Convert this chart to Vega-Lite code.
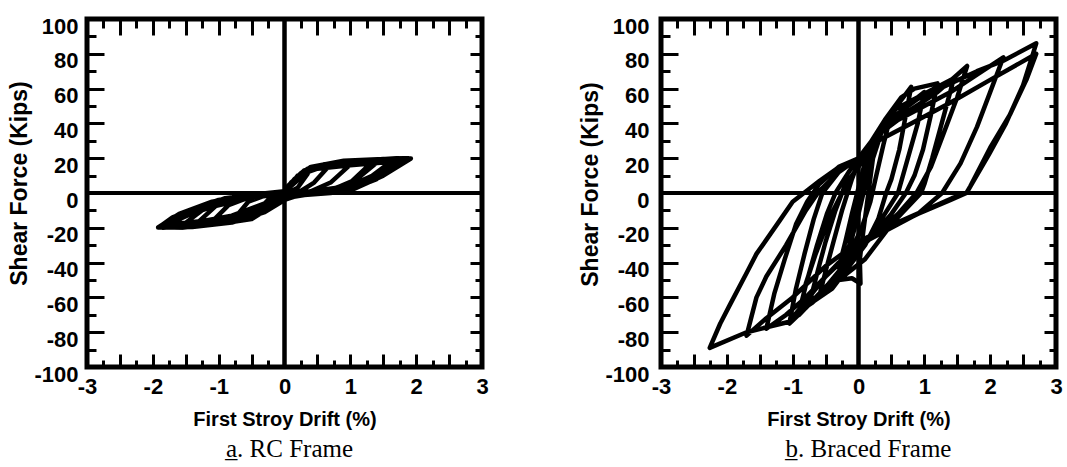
{
  "$schema": "https://vega.github.io/schema/vega-lite/v6.json",
  "background": "white",
  "padding": {"left": 6, "top": 12, "right": 5, "bottom": 5},
  "bounds": "flush",
  "spacing": 179,
  "config": {
    "view": {"stroke": "black", "strokeWidth": 5},
    "font": "Liberation Sans",
    "axis": {"grid": false, "domain": false, "labelColor": "black", "titleColor": "black", "tickColor": "black", "labelFont": "Liberation Sans", "titleFont": "Liberation Sans", "labelFontWeight": "bold", "titleFontWeight": "bold", "labelFlush": false, "labelOverlap": false}
  },
  "datasets": {
    "rc": [
      {"i":0,"d":0,"F":0},{"i":1,"d":0.1,"F":4},{"i":2,"d":0.25,"F":9},{"i":3,"d":0.35,"F":11},{"i":4,"d":0.2,"F":3},{"i":5,"d":0,"F":-1},{"i":6,"d":-0.15,"F":-4},{"i":7,"d":-0.35,"F":-8},{"i":8,"d":-0.2,"F":-2},{"i":9,"d":0,"F":0.5},
      {"i":10,"d":0.1,"F":5},{"i":11,"d":0.3,"F":12},{"i":12,"d":0.55,"F":15.5},{"i":13,"d":0.7,"F":16.5},{"i":14,"d":0.45,"F":6},{"i":15,"d":0.2,"F":0},{"i":16,"d":0,"F":-2},{"i":17,"d":-0.2,"F":-6},{"i":18,"d":-0.5,"F":-12},{"i":19,"d":-0.75,"F":-14},
      {"i":20,"d":-0.55,"F":-5},{"i":21,"d":-0.3,"F":-1.5},{"i":22,"d":0,"F":1},{"i":23,"d":0.1,"F":5},{"i":24,"d":0.3,"F":12.5},{"i":25,"d":0.6,"F":16.5},{"i":26,"d":0.9,"F":17.5},{"i":27,"d":1.05,"F":18},{"i":28,"d":0.7,"F":6},{"i":29,"d":0.4,"F":1},
      {"i":30,"d":0,"F":-2.5},{"i":31,"d":-0.2,"F":-7},{"i":32,"d":-0.5,"F":-13},{"i":33,"d":-0.9,"F":-16},{"i":34,"d":-1.1,"F":-16.5},{"i":35,"d":-0.85,"F":-7},{"i":36,"d":-0.5,"F":-2},{"i":37,"d":0,"F":1},{"i":38,"d":0.05,"F":4},{"i":39,"d":0.25,"F":11.5},
      {"i":40,"d":0.5,"F":15.5},{"i":41,"d":0.9,"F":17.5},{"i":42,"d":1.3,"F":18.5},{"i":43,"d":1.45,"F":19},{"i":44,"d":1.1,"F":8},{"i":45,"d":0.7,"F":1.5},{"i":46,"d":0.3,"F":-0.5},{"i":47,"d":0,"F":-3},{"i":48,"d":-0.15,"F":-6},{"i":49,"d":-0.5,"F":-14},
      {"i":50,"d":-1.0,"F":-17},{"i":51,"d":-1.4,"F":-18.5},{"i":52,"d":-1.55,"F":-18.5},{"i":53,"d":-1.15,"F":-7},{"i":54,"d":-0.7,"F":-2},{"i":55,"d":-0.3,"F":-0.3},{"i":56,"d":0,"F":1},{"i":57,"d":0.05,"F":4},{"i":58,"d":0.27,"F":12},{"i":59,"d":0.45,"F":15},
      {"i":60,"d":0.8,"F":17.5},{"i":61,"d":1.3,"F":19},{"i":62,"d":1.7,"F":20},{"i":63,"d":1.92,"F":19.8},{"i":64,"d":1.5,"F":10},{"i":65,"d":0.98,"F":1},{"i":66,"d":0.42,"F":-0.5},{"i":67,"d":0,"F":-3},{"i":68,"d":-0.12,"F":-6},{"i":69,"d":-0.5,"F":-15},
      {"i":70,"d":-1.0,"F":-17.8},{"i":71,"d":-1.55,"F":-20},{"i":72,"d":-1.9,"F":-19.5},{"i":73,"d":-1.7,"F":-14},{"i":74,"d":-1.29,"F":-8},{"i":75,"d":-0.79,"F":-2.5},{"i":76,"d":-0.38,"F":-0.6},{"i":77,"d":0,"F":1},{"i":78,"d":0.3,"F":13},{"i":79,"d":0.7,"F":17},
      {"i":80,"d":1.2,"F":18},{"i":81,"d":1.65,"F":19},{"i":82,"d":1.3,"F":9},{"i":83,"d":0.85,"F":1.5},{"i":84,"d":0.3,"F":-1},{"i":85,"d":0,"F":-3},{"i":86,"d":-0.3,"F":-10},{"i":87,"d":-0.8,"F":-16},{"i":88,"d":-1.3,"F":-18},{"i":89,"d":-1.75,"F":-19.5},
      {"i":90,"d":-1.4,"F":-10},{"i":91,"d":-0.9,"F":-3},{"i":92,"d":-0.4,"F":-0.5},{"i":93,"d":0,"F":1},{"i":94,"d":0.05,"F":3},
      {"i":95,"d":0.2,"F":9},{"i":96,"d":0.5,"F":15},{"i":97,"d":1.0,"F":18},{"i":98,"d":1.5,"F":19.5},{"i":99,"d":1.8,"F":19.8},
      {"i":100,"d":1.4,"F":8},{"i":101,"d":1.0,"F":2},{"i":102,"d":0.5,"F":0},{"i":103,"d":0,"F":-2},{"i":104,"d":-0.25,"F":-8},{"i":105,"d":-0.7,"F":-15},{"i":106,"d":-1.2,"F":-18},{"i":107,"d":-1.7,"F":-19.5},{"i":108,"d":-1.85,"F":-20},{"i":109,"d":-1.5,"F":-11},
      {"i":110,"d":-1.0,"F":-4},{"i":111,"d":-0.5,"F":-1},{"i":112,"d":0,"F":0.5},{"i":113,"d":0.1,"F":6},{"i":114,"d":0.35,"F":14},{"i":115,"d":0.8,"F":17},{"i":116,"d":1.25,"F":18.5},{"i":117,"d":1.35,"F":18.5},{"i":118,"d":1.0,"F":6},{"i":119,"d":0.6,"F":0.5},
      {"i":120,"d":0.2,"F":-1},{"i":121,"d":0,"F":-2},{"i":122,"d":-0.3,"F":-9},{"i":123,"d":-0.8,"F":-15},{"i":124,"d":-1.2,"F":-17.5},{"i":125,"d":-1.35,"F":-18},{"i":126,"d":-1.0,"F":-6},{"i":127,"d":-0.6,"F":-1.5},{"i":128,"d":0,"F":0.5},{"i":129,"d":0.15,"F":8},
      {"i":130,"d":0.4,"F":15},{"i":131,"d":0.9,"F":18.5},{"i":132,"d":1.5,"F":19.5},{"i":133,"d":1.88,"F":20},{"i":134,"d":1.6,"F":13},{"i":135,"d":1.2,"F":5},{"i":136,"d":0.7,"F":0},{"i":137,"d":0.2,"F":-1.5},{"i":138,"d":0,"F":-4},{"i":139,"d":-0.3,"F":-11},
      {"i":140,"d":-0.8,"F":-17},{"i":141,"d":-1.4,"F":-19.5},{"i":142,"d":-1.92,"F":-19.8},{"i":143,"d":-1.6,"F":-12},{"i":144,"d":-1.1,"F":-5},{"i":145,"d":-0.6,"F":-1.5},{"i":146,"d":0,"F":0.5},
      {"i":147,"d":0.1,"F":6},{"i":148,"d":0.3,"F":13},{"i":149,"d":0.7,"F":16.5},{"i":150,"d":1.2,"F":17.5},{"i":151,"d":1.75,"F":19},{"i":152,"d":1.5,"F":13},{"i":153,"d":1.2,"F":7},{"i":154,"d":0.9,"F":3},{"i":155,"d":0.5,"F":1},{"i":156,"d":0,"F":-1.5},
      {"i":157,"d":-0.2,"F":-5},{"i":158,"d":-0.6,"F":-12},{"i":159,"d":-1.1,"F":-15.5},{"i":160,"d":-1.6,"F":-17.5},{"i":161,"d":-1.8,"F":-18.5},{"i":162,"d":-1.6,"F":-15},{"i":163,"d":-1.3,"F":-10},{"i":164,"d":-0.9,"F":-5},{"i":165,"d":-0.5,"F":-2},{"i":166,"d":0,"F":0},
      {"i":167,"d":0.2,"F":10},{"i":168,"d":0.5,"F":14},{"i":169,"d":1.0,"F":16},{"i":170,"d":1.5,"F":17.5},{"i":171,"d":1.85,"F":19.5},{"i":172,"d":1.7,"F":16},{"i":173,"d":1.4,"F":11},{"i":174,"d":1.1,"F":6},{"i":175,"d":0.8,"F":3},{"i":176,"d":0.4,"F":1},
      {"i":177,"d":0,"F":-1},{"i":178,"d":-0.3,"F":-6},{"i":179,"d":-0.8,"F":-13},{"i":180,"d":-1.3,"F":-16.5},{"i":181,"d":-1.88,"F":-19},{"i":182,"d":-1.75,"F":-17},{"i":183,"d":-1.5,"F":-13},{"i":184,"d":-1.1,"F":-8},{"i":185,"d":-0.6,"F":-3.5},{"i":186,"d":0,"F":0}
    ],
    "braced": [
      {"i":0,"d":0,"F":0},{"i":1,"d":0.08,"F":12},{"i":2,"d":0.15,"F":22},{"i":3,"d":0.08,"F":8},{"i":4,"d":0,"F":-8},{"i":5,"d":-0.08,"F":-20},{"i":6,"d":-0.15,"F":-28},{"i":7,"d":-0.05,"F":-12},{"i":8,"d":0.05,"F":5},{"i":9,"d":0.15,"F":20},
      {"i":10,"d":0.25,"F":30},{"i":11,"d":0.3,"F":33},{"i":12,"d":0.2,"F":18},{"i":13,"d":0.1,"F":4},{"i":14,"d":0,"F":-12},{"i":15,"d":-0.1,"F":-26},{"i":16,"d":-0.2,"F":-36},{"i":17,"d":-0.3,"F":-43},{"i":18,"d":-0.2,"F":-28},{"i":19,"d":-0.1,"F":-12},
      {"i":20,"d":0,"F":3},{"i":21,"d":0.1,"F":18},{"i":22,"d":0.2,"F":28},{"i":23,"d":0.35,"F":38},{"i":24,"d":0.5,"F":46},{"i":25,"d":0.38,"F":28},{"i":26,"d":0.27,"F":10},{"i":27,"d":0.18,"F":-5},{"i":28,"d":0.05,"F":-20},{"i":29,"d":-0.1,"F":-32},
      {"i":30,"d":-0.3,"F":-45},{"i":31,"d":-0.45,"F":-52},{"i":32,"d":-0.3,"F":-50},{"i":33,"d":-0.1,"F":-49},{"i":34,"d":0.03,"F":-52},{"i":35,"d":0.02,"F":-38},{"i":36,"d":0.08,"F":-20},{"i":37,"d":0.15,"F":0},{"i":38,"d":0.22,"F":20},{"i":39,"d":0.35,"F":35},
      {"i":40,"d":0.62,"F":52},{"i":41,"d":0.8,"F":61},{"i":42,"d":0.72,"F":45},{"i":43,"d":0.62,"F":25},{"i":44,"d":0.5,"F":8},{"i":45,"d":0.42,"F":0},{"i":46,"d":0.3,"F":-15},{"i":47,"d":0.1,"F":-30},{"i":48,"d":-0.2,"F":-45},{"i":49,"d":-0.45,"F":-55},
      {"i":50,"d":-0.6,"F":-60},{"i":51,"d":-0.5,"F":-45},{"i":52,"d":-0.38,"F":-28},{"i":53,"d":-0.25,"F":-10},{"i":54,"d":-0.1,"F":8},{"i":55,"d":0,"F":18},{"i":56,"d":0.2,"F":30},{"i":57,"d":0.4,"F":42},{"i":58,"d":0.65,"F":55},{"i":59,"d":0.85,"F":60},
      {"i":60,"d":1.2,"F":63},{"i":61,"d":1.1,"F":45},{"i":62,"d":0.98,"F":25},{"i":63,"d":0.85,"F":10},{"i":64,"d":0.72,"F":0},{"i":65,"d":0.5,"F":-12},{"i":66,"d":0.2,"F":-25},{"i":67,"d":0,"F":-33},{"i":68,"d":-0.4,"F":-52},{"i":69,"d":-0.7,"F":-63},
      {"i":70,"d":-0.9,"F":-68},{"i":71,"d":-0.78,"F":-50},{"i":72,"d":-0.63,"F":-30},{"i":73,"d":-0.48,"F":-12},{"i":74,"d":-0.35,"F":0},{"i":75,"d":-0.15,"F":12},{"i":76,"d":0,"F":20},{"i":77,"d":0.2,"F":30},{"i":78,"d":0.45,"F":40},{"i":79,"d":0.8,"F":48},
      {"i":80,"d":1.2,"F":58},{"i":81,"d":1.65,"F":73},{"i":82,"d":1.5,"F":55},{"i":83,"d":1.3,"F":35},{"i":84,"d":1.1,"F":15},{"i":85,"d":0.88,"F":0},{"i":86,"d":0.6,"F":-12},{"i":87,"d":0.25,"F":-24},{"i":88,"d":0,"F":-32},{"i":89,"d":-0.4,"F":-50},
      {"i":90,"d":-0.8,"F":-66},{"i":91,"d":-1.05,"F":-75},{"i":92,"d":-0.95,"F":-55},{"i":93,"d":-0.82,"F":-35},{"i":94,"d":-0.68,"F":-15},{"i":95,"d":-0.55,"F":0},{"i":96,"d":-0.3,"F":12},{"i":97,"d":0,"F":20},{"i":98,"d":0.25,"F":32},{"i":99,"d":0.6,"F":42},
      {"i":100,"d":1.0,"F":50},{"i":101,"d":1.4,"F":58},{"i":102,"d":1.8,"F":68},{"i":103,"d":2.2,"F":78},{"i":104,"d":2.0,"F":58},{"i":105,"d":1.8,"F":38},{"i":106,"d":1.55,"F":17},{"i":107,"d":1.27,"F":0},{"i":108,"d":0.9,"F":-12},{"i":109,"d":0.4,"F":-22},
      {"i":110,"d":0,"F":-30},{"i":111,"d":-0.3,"F":-40},{"i":112,"d":-0.8,"F":-60},{"i":113,"d":-1.1,"F":-70},{"i":114,"d":-1.4,"F":-78},{"i":115,"d":-1.28,"F":-58},{"i":116,"d":-1.12,"F":-38},{"i":117,"d":-0.95,"F":-18},{"i":118,"d":-0.78,"F":-5},{"i":119,"d":-0.6,"F":5},
      {"i":120,"d":-0.3,"F":15},{"i":121,"d":0,"F":20},{"i":122,"d":0.2,"F":30},{"i":123,"d":0.5,"F":43},{"i":124,"d":0.9,"F":54},{"i":125,"d":1.4,"F":63},{"i":126,"d":1.8,"F":70},{"i":127,"d":2.2,"F":76},{"i":128,"d":2.7,"F":86},{"i":129,"d":2.5,"F":62},
      {"i":130,"d":2.24,"F":40},{"i":131,"d":1.98,"F":22},{"i":132,"d":1.64,"F":0},{"i":133,"d":1.42,"F":-3},{"i":134,"d":0.47,"F":-19},{"i":135,"d":0,"F":-28},{"i":136,"d":-0.5,"F":-42},{"i":137,"d":-1.0,"F":-60},{"i":138,"d":-1.4,"F":-72},{"i":139,"d":-1.7,"F":-82},
      {"i":140,"d":-1.55,"F":-60},{"i":141,"d":-1.4,"F":-48},{"i":142,"d":-1.1,"F":-30},{"i":143,"d":-0.8,"F":-10},{"i":144,"d":-0.6,"F":1},{"i":145,"d":-0.3,"F":12},{"i":146,"d":0,"F":20},{"i":147,"d":0.3,"F":30},{"i":148,"d":0.8,"F":40},{"i":149,"d":1.4,"F":52},
      {"i":150,"d":2.0,"F":65},{"i":151,"d":2.7,"F":80},{"i":152,"d":2.55,"F":65},{"i":153,"d":2.3,"F":45},{"i":154,"d":2.0,"F":26},{"i":155,"d":1.7,"F":4},{"i":156,"d":1.64,"F":0},{"i":157,"d":1.4,"F":-4},{"i":158,"d":0.9,"F":-12},{"i":159,"d":0.47,"F":-20},
      {"i":160,"d":0,"F":-30},{"i":161,"d":-0.5,"F":-48},{"i":162,"d":-1.05,"F":-74},{"i":163,"d":-1.7,"F":-80},{"i":164,"d":-2.26,"F":-89},{"i":165,"d":-2.1,"F":-75},{"i":166,"d":-1.95,"F":-64},{"i":167,"d":-1.7,"F":-46},{"i":168,"d":-1.55,"F":-35},{"i":169,"d":-1.2,"F":-16},
      {"i":170,"d":-1.0,"F":-5},{"i":171,"d":-0.59,"F":7},{"i":172,"d":-0.29,"F":15},{"i":173,"d":0,"F":20},{"i":174,"d":0.2,"F":28},
      {"i":175,"d":0.5,"F":42},{"i":176,"d":0.8,"F":52},{"i":177,"d":1.0,"F":58},{"i":178,"d":0.9,"F":40},{"i":179,"d":0.75,"F":20},{"i":180,"d":0.6,"F":0},{"i":181,"d":0.35,"F":-15},{"i":182,"d":0,"F":-35},{"i":183,"d":-0.4,"F":-55},{"i":184,"d":-0.75,"F":-64},
      {"i":185,"d":-0.62,"F":-45},{"i":186,"d":-0.5,"F":-28},{"i":187,"d":-0.35,"F":-10},{"i":188,"d":-0.2,"F":5},{"i":189,"d":0,"F":15},{"i":190,"d":0.15,"F":25},{"i":191,"d":0.3,"F":36},{"i":192,"d":0.55,"F":48},{"i":193,"d":1.0,"F":57},{"i":194,"d":1.45,"F":66},
      {"i":195,"d":1.3,"F":45},{"i":196,"d":1.12,"F":20},{"i":197,"d":1.0,"F":5},{"i":198,"d":0.95,"F":0},{"i":199,"d":0.5,"F":-18},{"i":200,"d":0.1,"F":-38},{"i":201,"d":-0.3,"F":-50},{"i":202,"d":-0.6,"F":-58},{"i":203,"d":-0.9,"F":-70},{"i":204,"d":-0.8,"F":-52},
      {"i":205,"d":-0.65,"F":-35},{"i":206,"d":-0.45,"F":-15},{"i":207,"d":-0.25,"F":0},{"i":208,"d":0,"F":16}
    ],
    "one": [{"k": 1}]
  },
  "hconcat": [
    {
      "width": 395, "height": 348,
      "title": {"text": "a\u0332. RC Frame", "orient": "bottom", "anchor": "middle", "font": "Liberation Serif", "fontSize": 25, "fontWeight": "normal", "color": "black", "offset": 8, "dx": 5},
      "resolve": {"axis": {"x": "independent", "y": "independent"}},
      "layer": [
        {"data": {"name": "rc"}, "mark": {"type": "line", "color": "black", "strokeWidth": 4.5, "strokeJoin": "round"},
         "encoding": {
           "x": {"field": "d", "type": "quantitative", "scale": {"domain": [-3, 3], "nice": false, "zero": false},
                 "axis": {"orient": "bottom", "values": [-3,-2,-1,0,1,2,3], "ticks": false, "labelExpr": "'' + datum.value", "labelFontSize": 22, "labelPadding": 9, "title": "First Stroy Drift (%)", "titleFontSize": 20, "titlePadding": 12}},
           "y": {"field": "F", "type": "quantitative", "scale": {"domain": [-100, 100], "nice": false, "zero": false},
                 "axis": {"orient": "left", "values": [-100,-80,-60,-40,-20,0,20,40,60,80,100], "ticks": false, "labelExpr": "'' + datum.value", "labelFontSize": 22, "labelPadding": 9, "labelOffset": 7, "title": "Shear Force (Kips)", "titleFontSize": 23, "titlePadding": 2, "titleY": 164}},
           "order": {"field": "i", "type": "quantitative"}}},
        {"data": {"name": "one"}, "mark": {"type": "rule", "color": "black", "strokeWidth": 4},
         "encoding": {
           "x": {"datum": 0, "type": "quantitative", "scale": {"domain": [-3, 3], "nice": false, "zero": false}, "axis": {"orient": "bottom", "values": [-2.5,-2,-1.5,-1,-0.5,0.5,1,1.5,2,2.5], "tickSize": -13, "tickWidth": 3, "labels": false, "title": null}},
           "y": {"datum": -100, "type": "quantitative", "scale": {"domain": [-100, 100], "nice": false, "zero": false}, "axis": {"orient": "left", "values": [-80,-60,-40,-20,20,40,60,80], "tickSize": -17, "tickWidth": 3, "labels": false, "title": null}},
           "y2": {"datum": 100}}},
        {"data": {"name": "one"}, "mark": {"type": "rule", "color": "black", "strokeWidth": 4},
         "encoding": {
           "x": {"datum": 0, "type": "quantitative", "scale": {"domain": [-3, 3], "nice": false, "zero": false}, "axis": {"orient": "bottom", "values": [-2.75,-2.25,-1.75,-1.25,-0.75,-0.25,0.25,0.75,1.25,1.75,2.25,2.75], "tickSize": -7, "tickWidth": 3, "labels": false, "title": null}},
           "y": {"datum": -100, "type": "quantitative", "scale": {"domain": [-100, 100], "nice": false, "zero": false}, "axis": {"orient": "left", "values": [-90,-70,-50,-30,-10,10,30,50,70,90], "tickSize": -9, "tickWidth": 3, "labels": false, "title": null}},
           "y2": {"datum": 100}}},
        {"data": {"name": "one"}, "mark": {"type": "rule", "color": "black", "strokeWidth": 4},
         "encoding": {
           "y": {"datum": 0, "type": "quantitative", "scale": {"domain": [-100, 100], "nice": false, "zero": false}, "axis": {"orient": "right", "values": [-80,-60,-40,-20,20,40,60,80], "tickSize": -12, "tickWidth": 3, "labels": false, "title": null}},
           "x": {"datum": -3, "type": "quantitative", "scale": {"domain": [-3, 3], "nice": false, "zero": false}, "axis": {"orient": "top", "values": [-2.5,-2,-1.5,-1,-0.5,0.5,1,1.5,2,2.5], "tickSize": -16, "tickWidth": 3, "labels": false, "title": null}},
           "x2": {"datum": 3}}},
        {"data": {"name": "one"}, "mark": {"type": "rule", "color": "black", "strokeWidth": 4},
         "encoding": {
           "y": {"datum": 0, "type": "quantitative", "scale": {"domain": [-100, 100], "nice": false, "zero": false}, "axis": {"orient": "right", "values": [-90,-70,-50,-30,-10,10,30,50,70,90], "tickSize": -7, "tickWidth": 3, "labels": false, "title": null}},
           "x": {"datum": -3, "type": "quantitative", "scale": {"domain": [-3, 3], "nice": false, "zero": false}, "axis": {"orient": "top", "values": [-2.75,-2.25,-1.75,-1.25,-0.75,-0.25,0.25,0.75,1.25,1.75,2.25,2.75], "tickSize": -9, "tickWidth": 3, "labels": false, "title": null}},
           "x2": {"datum": 3}}}
      ]
    },
    {
      "width": 395, "height": 348,
      "title": {"text": "b\u0332. Braced Frame", "orient": "bottom", "anchor": "middle", "font": "Liberation Serif", "fontSize": 25, "fontWeight": "normal", "color": "black", "offset": 8, "dx": 10},
      "resolve": {"axis": {"x": "independent", "y": "independent"}},
      "layer": [
        {"data": {"name": "braced"}, "mark": {"type": "line", "color": "black", "strokeWidth": 4.5, "strokeJoin": "round"},
         "encoding": {
           "x": {"field": "d", "type": "quantitative", "scale": {"domain": [-3, 3], "nice": false, "zero": false},
                 "axis": {"orient": "bottom", "values": [-3,-2,-1,0,1,2,3], "ticks": false, "labelExpr": "'' + datum.value", "labelFontSize": 22, "labelPadding": 9, "title": "First Stroy Drift (%)", "titleFontSize": 20, "titlePadding": 12}},
           "y": {"field": "F", "type": "quantitative", "scale": {"domain": [-100, 100], "nice": false, "zero": false},
                 "axis": {"orient": "left", "values": [-100,-80,-60,-40,-20,0,20,40,60,80,100], "ticks": false, "labelExpr": "'' + datum.value", "labelFontSize": 22, "labelPadding": 12, "labelOffset": 7, "title": "Shear Force (Kips)", "titleFontSize": 23, "titlePadding": 2, "titleY": 165}},
           "order": {"field": "i", "type": "quantitative"}}},
        {"data": {"name": "one"}, "mark": {"type": "rule", "color": "black", "strokeWidth": 4},
         "encoding": {
           "x": {"datum": 0, "type": "quantitative", "scale": {"domain": [-3, 3], "nice": false, "zero": false}, "axis": {"orient": "bottom", "values": [-2.5,-2,-1.5,-1,-0.5,0.5,1,1.5,2,2.5], "tickSize": -13, "tickWidth": 3, "labels": false, "title": null}},
           "y": {"datum": -100, "type": "quantitative", "scale": {"domain": [-100, 100], "nice": false, "zero": false}, "axis": {"orient": "left", "values": [-80,-60,-40,-20,20,40,60,80], "tickSize": -17, "tickWidth": 3, "labels": false, "title": null}},
           "y2": {"datum": 100}}},
        {"data": {"name": "one"}, "mark": {"type": "rule", "color": "black", "strokeWidth": 4},
         "encoding": {
           "x": {"datum": 0, "type": "quantitative", "scale": {"domain": [-3, 3], "nice": false, "zero": false}, "axis": {"orient": "bottom", "values": [-2.75,-2.25,-1.75,-1.25,-0.75,-0.25,0.25,0.75,1.25,1.75,2.25,2.75], "tickSize": -7, "tickWidth": 3, "labels": false, "title": null}},
           "y": {"datum": -100, "type": "quantitative", "scale": {"domain": [-100, 100], "nice": false, "zero": false}, "axis": {"orient": "left", "values": [-90,-70,-50,-30,-10,10,30,50,70,90], "tickSize": -9, "tickWidth": 3, "labels": false, "title": null}},
           "y2": {"datum": 100}}},
        {"data": {"name": "one"}, "mark": {"type": "rule", "color": "black", "strokeWidth": 4},
         "encoding": {
           "y": {"datum": 0, "type": "quantitative", "scale": {"domain": [-100, 100], "nice": false, "zero": false}, "axis": {"orient": "right", "values": [-80,-60,-40,-20,20,40,60,80], "tickSize": -12, "tickWidth": 3, "labels": false, "title": null}},
           "x": {"datum": -3, "type": "quantitative", "scale": {"domain": [-3, 3], "nice": false, "zero": false}, "axis": {"orient": "top", "values": [-2.5,-2,-1.5,-1,-0.5,0.5,1,1.5,2,2.5], "tickSize": -16, "tickWidth": 3, "labels": false, "title": null}},
           "x2": {"datum": 3}}},
        {"data": {"name": "one"}, "mark": {"type": "rule", "color": "black", "strokeWidth": 4},
         "encoding": {
           "y": {"datum": 0, "type": "quantitative", "scale": {"domain": [-100, 100], "nice": false, "zero": false}, "axis": {"orient": "right", "values": [-90,-70,-50,-30,-10,10,30,50,70,90], "tickSize": -7, "tickWidth": 3, "labels": false, "title": null}},
           "x": {"datum": -3, "type": "quantitative", "scale": {"domain": [-3, 3], "nice": false, "zero": false}, "axis": {"orient": "top", "values": [-2.75,-2.25,-1.75,-1.25,-0.75,-0.25,0.25,0.75,1.25,1.75,2.25,2.75], "tickSize": -9, "tickWidth": 3, "labels": false, "title": null}},
           "x2": {"datum": 3}}}
      ]
    }
  ]
}
